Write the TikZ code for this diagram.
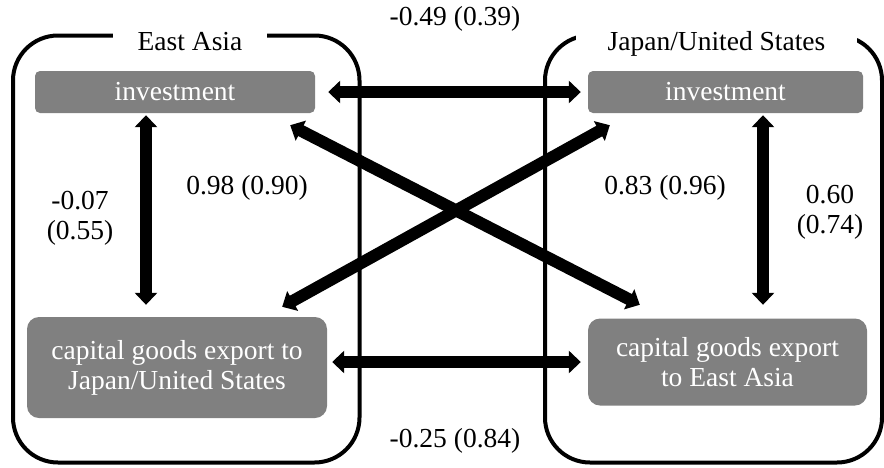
\documentclass[tikz,border=0pt]{standalone}
\usepackage{fontspec}
\setmainfont{Liberation Serif}
\usetikzlibrary{arrows.meta}
\definecolor{boxgray}{RGB}{128,128,128}

\begin{document}
\begin{tikzpicture}[x=1pt,y=1pt]
	\tikzstyle{every node}+=[inner sep=0pt, font=\fontsize{27.5}{30}\selectfont]
	\tikzstyle{frame}=[line width=4pt, rounded corners=45pt]
	\tikzstyle{title}=[fill=white, inner xsep=25pt, inner ysep=4pt, anchor=base]
	\tikzstyle{var}=[fill=boxgray, text=white, align=center]
	\tikzstyle{link}=[line width=12pt, {Triangle[width=22pt,length=12pt]}-{Triangle[width=22pt,length=12pt]}]
	\useasboundingbox (0,0) rectangle (884,-467);
	\draw [frame] (13,-35.5) rectangle (359.5,-462.5);
	\draw [frame] (545,-35.5) rectangle (882,-462.5);
	\node [title] (ea) at (190,-50) {East Asia};
	\node [title, inner xsep=32pt] (jus) at (716.5,-50) {Japan/United States};
	\node [var, minimum width=280pt, minimum height=42pt, rounded corners=5pt] (invL) at (175,-92) {investment};
	\node [var, minimum width=275pt, minimum height=42pt, rounded corners=5pt] (invR) at (725.5,-92) {investment};
	\node [var, minimum width=300pt, minimum height=101pt, rounded corners=12pt] (capL) at (177,-367.5) {capital goods export to\\Japan/United States};
	\node [var, minimum width=279pt, minimum height=87pt, rounded corners=12pt] (capR) at (727.5,-362) {capital goods export\\to East Asia};
	\node (r1) at (455,-19) {-0.49 (0.39)};
	\node (r2) at (455,-441) {-0.25 (0.84)};
	\node [align=center] (r3) at (80,-218) {-0.07\\(0.55)};
	\node (r4) at (247,-188) {0.98 (0.90)};
	\node (r5) at (665,-188) {0.83 (0.96)};
	\node [align=center] (r6) at (830,-212) {0.60\\(0.74)};
	\draw [link, shorten <=13pt, shorten >=7pt] (invL.east) -- (invR.west);
	\draw [link, shorten <=5pt, shorten >=7pt] (capL.east |- capR.west) -- (capR.west);
	\draw [link, shorten <=2pt, shorten >=12pt] ([xshift=-29pt]invL.south) -- ([xshift=-29pt]invL.south |- capL.north);
	\draw [link, shorten <=2pt, shorten >=13.5pt] ([xshift=37.5pt]invR.south) -- ([xshift=37.5pt]invR.south |- capR.north);
	\draw [link] ([xshift=-25pt,yshift=-12pt]invL.south east) -- ([xshift=52pt,yshift=13.5pt]capR.north west);
	\draw [link] ([xshift=22pt,yshift=-12pt]invR.south west) -- ([xshift=-45pt,yshift=10pt]capL.north east);
\end{tikzpicture}
\end{document}
